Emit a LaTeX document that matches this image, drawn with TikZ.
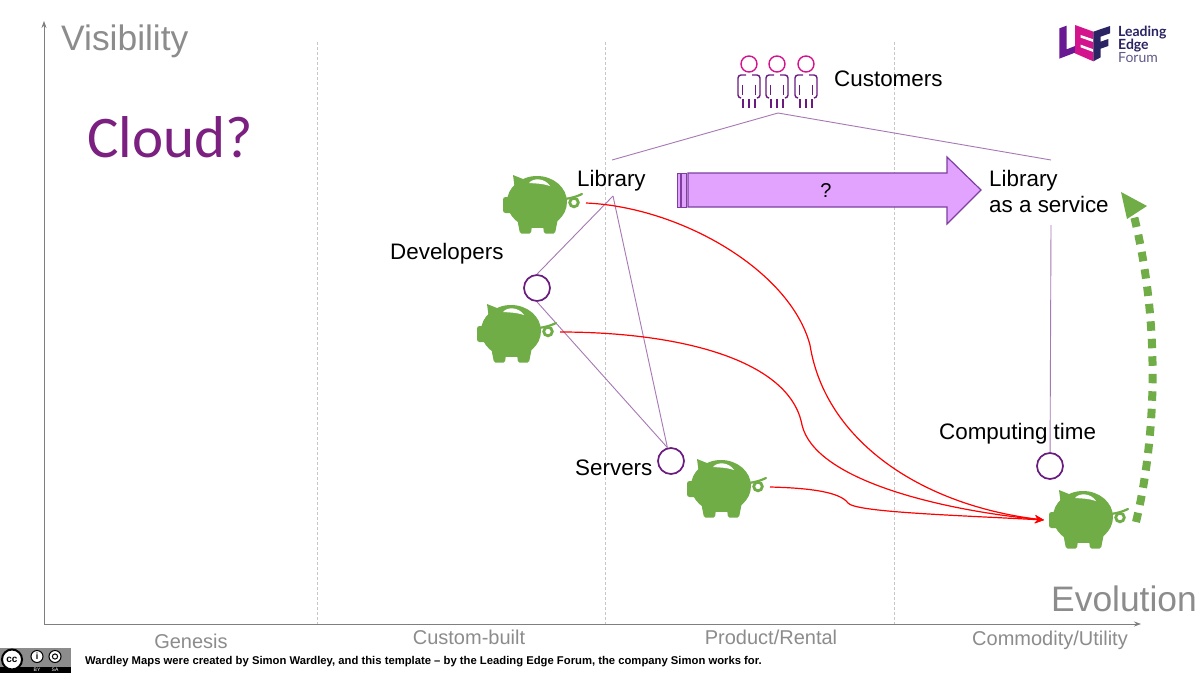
\documentclass[tikz,border=0pt]{standalone}
\usepackage{fontspec}
\setmainfont{Liberation Sans}
\newfontfamily\cloudfont{Carlito}
\newfontfamily\logofont{Lato}
\usetikzlibrary{arrows.meta}
\definecolor{pigG}{HTML}{70AD47}
\definecolor{axisG}{HTML}{7F7F7F}
\definecolor{lblG}{HTML}{8C8C8C}
\definecolor{linkP}{HTML}{A678B4}
\definecolor{circP}{HTML}{6A1B7F}
\definecolor{cloudP}{HTML}{7B1F80}
\definecolor{arrF}{HTML}{E2A3FF}
\definecolor{arrE}{HTML}{7E3FA0}
\definecolor{mag}{HTML}{D4148C}
\definecolor{navy}{HTML}{2B2463}
\tikzset{
  pig/.pic={
    \fill[pigG] (34,27) ellipse [x radius=30,y radius=26];
    \fill[pigG,rounded corners=2.5pt] (0,22) rectangle (12,38);
    \fill[pigG] (10,0) -- (25,6) -- (12,15) -- cycle;
    \fill[pigG,rounded corners=1.5pt] (13,38) -- (29,50) -- (28,58.5) -- (17,58.5) -- cycle;
    \fill[pigG,rounded corners=1.5pt] (56,38) -- (40,50) -- (41,58.5) -- (52,58.5) -- cycle;
    \fill[pigG] (24,48) rectangle (45,53);
    \fill[white] (26,8) .. controls (30,2.5) and (42,3) .. (47,11) .. controls (40,8.5) and (33,8.5) .. (26,8) -- cycle;
    \draw[pigG,line width=2.2pt,line cap=round] (62,24) .. controls (68,23) and (73,22) .. (79,19);
    \draw[pigG,line width=2.8pt] (71,27.5) circle (4.3);
  },
  person/.pic={
    \draw[mag,line width=1.4pt] (0,0) circle (8);
    \draw[circP,line width=1.4pt,rounded corners=3pt] (-3,11) -- (-11,11) -- (-11,34) -- (-8,34);
    \draw[circP,line width=1.4pt,rounded corners=3pt] (3,11) -- (11,11) -- (11,34) -- (8,34);
    \foreach \xx in {-6.6,6.6} \draw[circP,line width=1.4pt] (\xx,21) -- (\xx,31);
    \foreach \xx in {-6,0,6} \draw[circP,line width=1.4pt] (\xx,35) -- (\xx,44);
  },
  axisline/.style={draw=axisG,line width=0.8pt,-{Stealth[length=7pt,width=5pt]}},
  grid/.style={draw=black!22,line width=0.5pt,dash pattern=on 3pt off 2pt},
  axislabel/.style={text=lblG,font=\fontsize{35.4}{36}\selectfont,inner sep=0pt},
  stagelabel/.style={text=lblG,font=\fontsize{20}{20}\selectfont,inner sep=0pt},
  maplabel/.style={text=black,font=\fontsize{22.4}{26}\selectfont,inner sep=0pt},
  comp/.style={circle,draw=circP,line width=1.7pt,minimum size=26pt,inner sep=0pt},
  link/.style={draw=linkP,line width=0.9pt},
  evo/.style={draw=red,line width=1.2pt,-{Stealth[length=9pt,width=8pt]}},
}
\begin{document}
\begin{tikzpicture}[x=1pt,y=-1pt]
\useasboundingbox (0,0) rectangle (1200,675);
\fill[white] (0,0) rectangle (1200,675);
% grid
\foreach \gx in {317,605,894} \draw[grid] (\gx,42) -- (\gx,624);
% axes
\coordinate (origin) at (44,624);
\coordinate (ytip) at (44,21);
\coordinate (xtip) at (1141,624);
\draw[axisline] (origin) -- (ytip);
\draw[axisline] (origin) -- (xtip);
\node[axislabel,anchor=base west] (vis) at (61,50) {Visibility};
\node[axislabel,anchor=base west] (evol) at (1051,611) {Evolution};
\node[anchor=base west,inner sep=0pt,text=cloudP,font=\cloudfont\fontsize{59}{60}\selectfont] (cloud) at (87,157) {Cloud?};
\node[stagelabel,anchor=base] (gen) at (191,648) {Genesis};
\node[stagelabel,anchor=base] (cust) at (469,644) {Custom-built};
\node[stagelabel,anchor=base] (prod) at (771,644) {Product/Rental};
\node[stagelabel,anchor=base] (comm) at (1050,645) {Commodity/Utility};
% customers
\pic at (749,64) {person};
\pic at (777,64) {person};
\pic at (806,64) {person};
\node[maplabel,anchor=base west] (customers) at (834,86) {Customers};
% links
\coordinate (custA) at (778,113);
\coordinate (custL) at (612,160);
\coordinate (custR) at (1051,160);
\coordinate (libA) at (613,196);
\coordinate (lasB) at (1051,225);
\draw[link] (custL) -- (custA) -- (custR);
\node[comp] (dev) at (537,288) {};
\node[comp] (srv) at (671,461) {};
\node[comp] (ct) at (1050,466) {};
\draw[link] (libA) -- (dev.90);
\draw[link] (libA) -- (srv.105);
\draw[link] (dev.-90) -- (srv.105);
\draw[link] (lasB) -- (ct);
% labels
\node[maplabel,anchor=base west] (lib) at (577,186) {Library};
\node[maplabel,anchor=base west] (devl) at (390,259) {Developers};
\node[maplabel,anchor=base west] (srvl) at (575,475) {Servers};
\node[maplabel,anchor=base west] (ctl) at (939,439) {Computing time};
\node[maplabel,anchor=north west,align=left] (las) at (989,170) {Library\\as a service};
% pigs
\pic at (503,175) {pig};
\pic at (477,304) {pig};
\pic at (687,459) {pig};
\pic at (1049,490) {pig};
% big arrow
\fill[arrF,draw=arrE,line width=1pt] (677,173) rectangle (680,207);
\fill[arrF,draw=arrE,line width=1pt] (681.5,173) rectangle (686,207);
\fill[arrF,draw=arrE,line width=1.2pt] (688,173) -- (947,173) -- (947,157) -- (981,190) -- (947,224) -- (947,207) -- (688,207) -- cycle;
\node[inner sep=0pt,font=\fontsize{20}{20}\selectfont] (q) at (826,191) {?};
% red evolution curves
\coordinate (pigA) at (586,203);
\coordinate (pigB) at (560,332);
\coordinate (pigC) at (770,487);
\coordinate (pigD) at (1044,520);
\draw[evo] (pigA) .. controls (680,207) and (790,270) .. (810,345) .. controls (825,440) and (920,505) .. (pigD);
\draw[evo] (pigB) .. controls (680,332) and (790,360) .. (802,425) .. controls (815,480) and (940,510) .. (pigD);
\draw[evo] (pigC) .. controls (810,488) and (840,492) .. (848,503) .. controls (855,512) and (950,515) .. (pigD);
% green dashed arrow
\coordinate (gStart) at (1136,522);
\coordinate (gEnd) at (1132,208);
\draw[pigG,line width=8pt,dash pattern=on 9.5pt off 8pt] (gStart) .. controls (1151,460) and (1166,340) .. (gEnd);
\fill[pigG] (1121,192) -- (1147,206) -- (1127,219) -- cycle;
% logo
\begin{scope}[shift={(1040,10)},x=0.3333pt,y=-0.3333pt]
\fill[cloudP!85!blue] (58,55) -- (80,47) -- (80,118) -- (105,108) -- (105,128) -- (58,146) -- cycle;
\fill[mag] (105,45) -- (160,65) -- (160,154) -- (105,130) -- cycle;
\fill[white] (122,75) -- (160,88) -- (160,96) -- (122,83) -- cycle;
\fill[white] (122,104) -- (160,118) -- (160,126) -- (122,112) -- cycle;
\fill[navy] (160,65) -- (210,48) -- (210,70) -- (182,80) -- (182,95) -- (205,87) -- (205,108) -- (182,116) -- (182,142) -- (160,154) -- cycle;
\end{scope}
\node[anchor=base west,inner sep=0pt,text=navy,font=\logofont\bfseries\fontsize{14}{14}\selectfont] (l1) at (1118,36) {Leading};
\node[anchor=base west,inner sep=0pt,text=navy,font=\logofont\bfseries\fontsize{14}{14}\selectfont] (l2) at (1118,49) {Edge};
\node[anchor=base west,inner sep=0pt,text=navy!75,font=\logofont\fontsize{14}{14}\selectfont] (l3) at (1118,62) {Forum};
% cc badge
\fill[black!45] (0,648) rectangle (71,673);
\fill[black] (0,667) rectangle (71,673);
\fill[white,draw=black,line width=2pt] (12,659.5) circle (10);
\node[inner sep=0pt,font=\bfseries\fontsize{10}{10}\selectfont] (cc) at (12,659.5) {cc};
\fill[white,draw=black,line width=1pt] (37,656.5) circle (6);
\node[inner sep=0pt,font=\bfseries\fontsize{9}{9}\selectfont] (by) at (37,656.5) {i};
\fill[white,draw=black,line width=1pt] (55,656.5) circle (6);
\draw[black,line width=1pt] (55,656.5) circle (2.6);
\node[inner sep=0pt,text=white,font=\fontsize{5}{5}\selectfont] (byl) at (37,670) {BY};
\node[inner sep=0pt,text=white,font=\fontsize{5}{5}\selectfont] (sal) at (55,670) {SA};
\node[anchor=base west,inner sep=0pt,font=\bfseries\fontsize{11.27}{11}\selectfont] (credit) at (85,664) {Wardley Maps were created by Simon Wardley, and this template – by the Leading Edge Forum, the company Simon works for.};
\end{tikzpicture}
\end{document}
